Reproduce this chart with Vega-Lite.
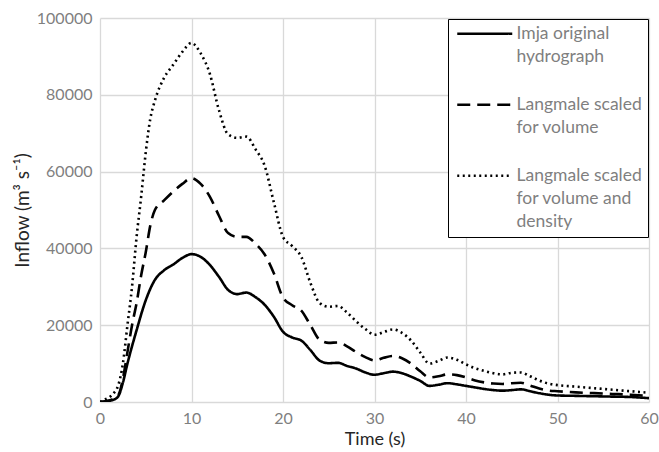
{
  "$schema": "https://vega.github.io/schema/vega-lite/v6.json",
  "width": 549,
  "height": 384,
  "autosize": {"type": "none"},
  "padding": {"left": 100, "top": 18, "right": 10, "bottom": 50},
  "background": "white",
  "config": {
    "view": {"stroke": null},
    "font": "Lato",
    "style": {"guide-label": {"lineHeight": 23}}
  },
  "datasets": {
    "solid": [
      {"t":0,"v":0},{"t":1,"v":300},{"t":1.5,"v":600},{"t":2,"v":1500},{"t":2.5,"v":5000},{"t":3,"v":10000},{"t":4,"v":18700},{"t":5,"v":26500},{"t":6,"v":31800},{"t":7,"v":34300},{"t":8,"v":35800},{"t":9,"v":37500},{"t":10,"v":38500},{"t":11,"v":37800},{"t":12,"v":35700},{"t":13,"v":32600},{"t":14,"v":29200},{"t":15,"v":28100},{"t":16,"v":28500},{"t":17,"v":27300},{"t":18,"v":25300},{"t":19,"v":22200},{"t":20,"v":18300},{"t":21,"v":16800},{"t":22,"v":16000},{"t":23,"v":13500},{"t":24,"v":10800},{"t":25,"v":10100},{"t":26,"v":10200},{"t":27,"v":9400},{"t":28,"v":8700},{"t":29,"v":7700},{"t":30,"v":7100},{"t":31,"v":7500},{"t":32,"v":7900},{"t":33,"v":7500},{"t":34,"v":6600},{"t":35,"v":5500},{"t":36,"v":4200},{"t":37,"v":4500},{"t":38,"v":4900},{"t":39,"v":4600},{"t":40,"v":4200},{"t":41,"v":3800},{"t":42,"v":3400},{"t":43,"v":3100},{"t":44,"v":2950},{"t":45,"v":3100},{"t":46,"v":3300},{"t":47,"v":2800},{"t":48,"v":2300},{"t":49,"v":1900},{"t":50,"v":1700},{"t":52,"v":1600},{"t":54,"v":1500},{"t":56,"v":1400},{"t":58,"v":1300},{"t":60,"v":1000}
    ],
    "dashed": [
      {"t":0,"v":0},{"t":1,"v":400},{"t":2,"v":1800},{"t":2.5,"v":6000},{"t":3,"v":13000},{"t":3.5,"v":20000},{"t":4,"v":25800},{"t":4.5,"v":33000},{"t":5,"v":39000},{"t":5.5,"v":46000},{"t":6,"v":50000},{"t":7,"v":52500},{"t":8,"v":54800},{"t":9,"v":56800},{"t":10,"v":58300},{"t":11,"v":56800},{"t":12,"v":53500},{"t":13,"v":48500},{"t":14,"v":44000},{"t":15,"v":43000},{"t":16,"v":43000},{"t":17,"v":41200},{"t":18,"v":38400},{"t":19,"v":33500},{"t":20,"v":27200},{"t":21,"v":25200},{"t":22,"v":23800},{"t":23,"v":20000},{"t":24,"v":16200},{"t":25,"v":15400},{"t":26,"v":15500},{"t":27,"v":14500},{"t":28,"v":13000},{"t":29,"v":11700},{"t":30,"v":10800},{"t":31,"v":11500},{"t":32,"v":12000},{"t":33,"v":11400},{"t":34,"v":10000},{"t":35,"v":8000},{"t":36,"v":6400},{"t":37,"v":6700},{"t":38,"v":7200},{"t":39,"v":7000},{"t":40,"v":6400},{"t":41,"v":5600},{"t":42,"v":5100},{"t":43,"v":4800},{"t":44,"v":4700},{"t":45,"v":4900},{"t":46,"v":5000},{"t":47,"v":4300},{"t":48,"v":3500},{"t":49,"v":3000},{"t":50,"v":2800},{"t":52,"v":2500},{"t":54,"v":2300},{"t":56,"v":2100},{"t":58,"v":1900},{"t":60,"v":1600}
    ],
    "dotted": [
      {"t":0,"v":0},{"t":0.5,"v":600},{"t":1,"v":1200},{"t":1.5,"v":2300},{"t":2,"v":4400},{"t":2.5,"v":10000},{"t":3,"v":20000},{"t":3.5,"v":30000},{"t":4,"v":43000},{"t":4.5,"v":53500},{"t":5,"v":65000},{"t":5.5,"v":73800},{"t":6,"v":78500},{"t":7,"v":84400},{"t":8,"v":87800},{"t":9,"v":91200},{"t":10,"v":93500},{"t":11,"v":90800},{"t":12,"v":85500},{"t":13,"v":76000},{"t":14,"v":69700},{"t":15,"v":68800},{"t":16,"v":69100},{"t":17,"v":65800},{"t":18,"v":61500},{"t":19,"v":52000},{"t":20,"v":43000},{"t":21,"v":40600},{"t":22,"v":37800},{"t":23,"v":31000},{"t":24,"v":25800},{"t":25,"v":24800},{"t":26,"v":25000},{"t":27,"v":23300},{"t":28,"v":21000},{"t":29,"v":19000},{"t":30,"v":17500},{"t":31,"v":18200},{"t":32,"v":18900},{"t":33,"v":18000},{"t":34,"v":16000},{"t":35,"v":12900},{"t":36,"v":10000},{"t":37,"v":10700},{"t":38,"v":11600},{"t":39,"v":11000},{"t":40,"v":9800},{"t":41,"v":8800},{"t":42,"v":8100},{"t":43,"v":7500},{"t":44,"v":7200},{"t":45,"v":7600},{"t":46,"v":7700},{"t":47,"v":6700},{"t":48,"v":5600},{"t":49,"v":4800},{"t":50,"v":4400},{"t":52,"v":4000},{"t":54,"v":3600},{"t":56,"v":3200},{"t":58,"v":2800},{"t":60,"v":2400}
    ]
  },
  "layer": [
    {
      "data": {"name": "solid"},
      "transform": [{"calculate": "'Imja original|hydrograph'", "as": "series"}],
      "mark": {"type": "line", "interpolate": "monotone", "strokeWidth": 2.6, "color": "black", "clip": true},
      "encoding": {
        "x": {"field": "t", "type": "quantitative",
              "scale": {"domain": [0, 60], "nice": false},
              "axis": {"values": [0,10,20,30,40,50,60], "title": "Time (s)", "grid": true, "gridColor": "#d9d9d9", "gridWidth": 1.3, "domain": false, "ticks": false, "labelFlush": false,
                       "labelFont": "Lato", "labelFontSize": 16, "labelColor": "#7f7f7f", "labelPadding": 8,
                       "titleFont": "Lato", "titleFontSize": 18, "titleFontWeight": "normal", "titleColor": "#262626", "titlePadding": 4}},
        "y": {"field": "v", "type": "quantitative",
              "scale": {"domain": [0, 100000], "nice": false},
              "axis": {"values": [0,20000,40000,60000,80000,100000], "format": "d", "title": "Inflow (m³ s⁻¹)", "grid": true, "gridColor": "#d9d9d9", "gridWidth": 1.3, "domain": false, "ticks": false, "labelFlush": false,
                       "labelFont": "Lato", "labelFontSize": 16, "labelColor": "#7f7f7f", "labelPadding": 8,
                       "titleFont": "Lato", "titleFontSize": 19, "titleFontWeight": "normal", "titleColor": "#262626", "titlePadding": 4}},
        "strokeDash": {"field": "series", "type": "nominal",
          "scale": {"domain": ["Imja original|hydrograph", "Langmale scaled|for volume", "Langmale scaled|for volume and|density"], "range": [[1,0],[13,7],[2,3.5]]},
          "legend": {"title": null, "orient": "top-right", "offset": 1, "strokeColor": "black", "fillColor": "white", "padding": 6,
                     "symbolType": "M-5,0H5", "symbolSize": 121, "symbolOffset": 22, "symbolStrokeWidth": 2.6, "symbolStrokeColor": "black", "symbolFillColor": "transparent",
                     "labelExpr": "split(datum.label, '|')", "labelFont": "Lato", "labelFontSize": 17.5, "labelColor": "#7f7f7f", "labelLimit": 200, "labelBaseline": "middle", "labelOffset": 23, "rowPadding": 29}}
      }
    },
    {
      "data": {"name": "dashed"},
      "transform": [{"calculate": "'Langmale scaled|for volume'", "as": "series"}],
      "mark": {"type": "line", "interpolate": "monotone", "strokeWidth": 2.6, "color": "black", "clip": true},
      "encoding": {
        "x": {"field": "t", "type": "quantitative"},
        "y": {"field": "v", "type": "quantitative"},
        "strokeDash": {"field": "series", "type": "nominal"}
      }
    },
    {
      "data": {"name": "dotted"},
      "transform": [{"calculate": "'Langmale scaled|for volume and|density'", "as": "series"}],
      "mark": {"type": "line", "interpolate": "monotone", "strokeWidth": 2.6, "color": "black", "clip": true},
      "encoding": {
        "x": {"field": "t", "type": "quantitative"},
        "y": {"field": "v", "type": "quantitative"},
        "strokeDash": {"field": "series", "type": "nominal"}
      }
    }
  ]
}
